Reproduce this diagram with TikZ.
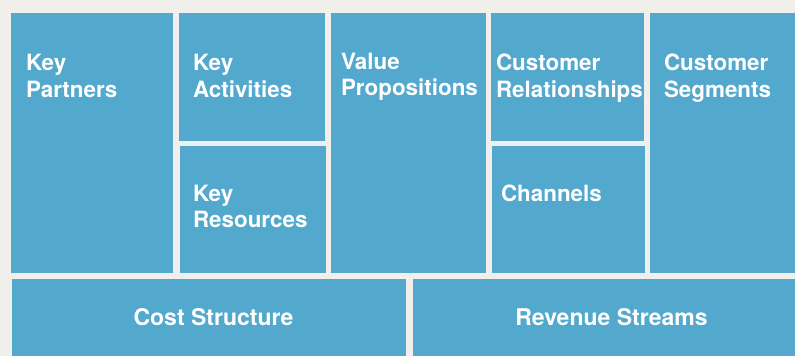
\documentclass[tikz,border=0pt]{standalone}
\usepackage{fontspec}
\setmainfont{TeX Gyre Heros}
\usetikzlibrary{positioning}
\definecolor{canvasblue}{HTML}{53A8CE}
\definecolor{paper}{HTML}{F1EFEC}

\begin{document}
\begin{tikzpicture}[x=1pt,y=1pt]
    \tikzstyle{every node}=[inner sep=0,outer sep=0]
    \tikzstyle{block}=[fill=canvasblue,draw=none,anchor=north west]
    \tikzstyle{title}=[text=white,font=\fontsize{22.4}{26.6}\selectfont\bfseries,align=left]
    \tikzstyle{footer}=[text=white,font=\fontsize{23}{26.6}\selectfont\bfseries]

    \useasboundingbox[fill=paper] (0,0) rectangle (795,-356);
    \clip (0,0) rectangle (795,-356);

    % upper row
    \node[block,minimum width=162,minimum height=260] (kp) at (11,-13) {};
    \node[block,minimum width=146,minimum height=128] (ka) at (179,-13) {};
    \node[block,minimum width=146,minimum height=127] (kr) at (180,-146) {};
    \node[block,minimum width=155,minimum height=260] (vp) at (331,-13) {};
    \node[block,minimum width=153,minimum height=128] (cr) at (491,-13) {};
    \node[block,minimum width=153,minimum height=127] (ch) at (492,-146) {};
    \node[block,minimum width=150,minimum height=260] (cs) at (650,-13) {};

    % lower row
    \node[block,minimum width=394,minimum height=81] (cost) at (12,-279) {};
    \node[block,minimum width=387,minimum height=81] (rev) at (413,-279) {};

    % titles
    \node[title,below right=41.5 and 15 of kp.north west] (kptext) {Key\\Partners};
    \node[title,below right=41.5 and 14 of ka.north west] (katext) {Key\\Activities};
    \node[title,below right=39 and 13 of kr.north west] (krtext) {Key\\Resources};
    \node[title,below right=40 and 10 of vp.north west] (vptext) {Value\\Propositions};
    \node[title,below right=41 and 5 of cr.north west] (crtext) {Customer\\Relationships};
    \node[title,below right=39 and 9 of ch.north west] (chtext) {Channels};
    \node[title,below right=41 and 14 of cs.north west] (cstext) {Customer\\Segments};

    \node[footer] (costtext) at ([xshift=4.5,yshift=2]cost.center) {Cost Structure};
    \node[footer] (revtext) at ([xshift=5,yshift=2]rev.center) {Revenue Streams};
\end{tikzpicture}
\end{document}
